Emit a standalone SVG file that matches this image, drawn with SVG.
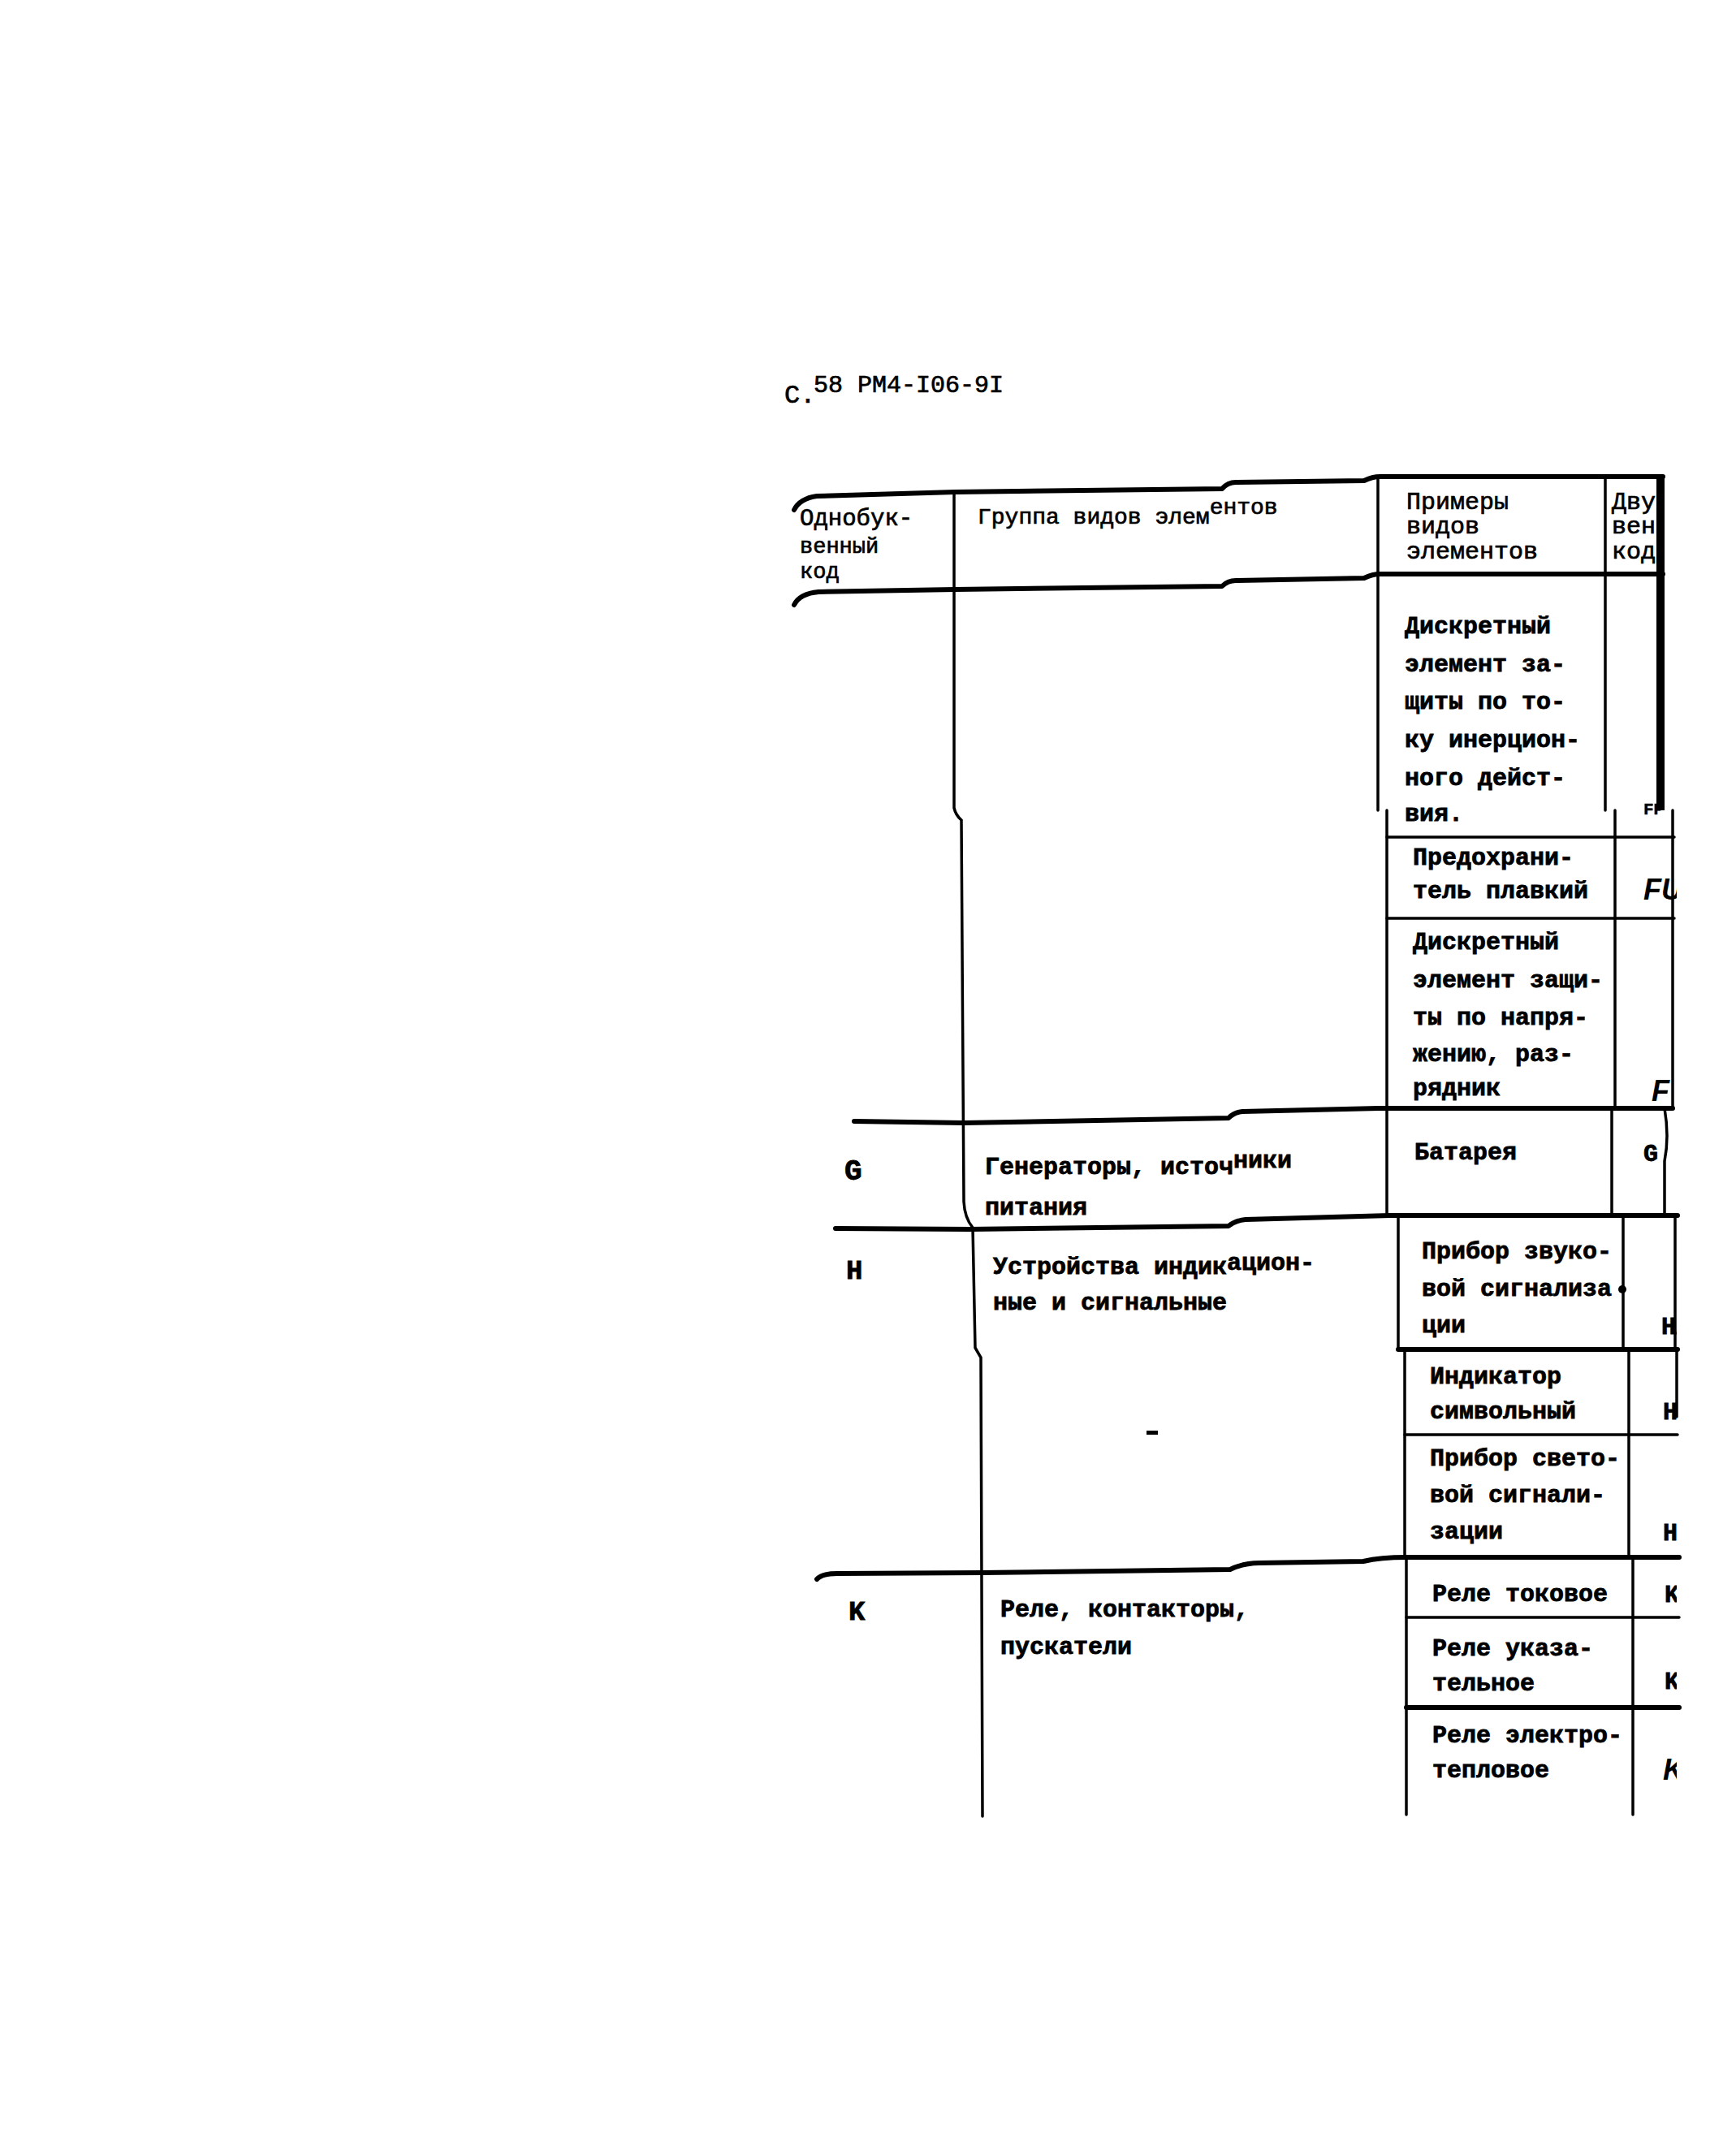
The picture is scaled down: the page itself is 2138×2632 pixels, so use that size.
<svg xmlns="http://www.w3.org/2000/svg" width="2138" height="2632" viewBox="0 0 2138 2632">
<style>
text{font-family:"Liberation Mono","DejaVu Sans Mono",monospace;font-size:30px;fill:#000}
.b{font-weight:bold;stroke:#000;stroke-width:0.8}
.h{font-weight:normal;stroke:#000;stroke-width:0.7}
.hw{font-family:"Liberation Sans",sans-serif;font-style:italic;font-weight:bold;font-size:36px}
.th{fill:none;stroke:#000;stroke-width:6;stroke-linecap:round;stroke-linejoin:round}
.tn{fill:none;stroke:#000;stroke-width:3.5;stroke-linecap:round}
.edge{fill:none;stroke:#000;stroke-width:10}
</style>
<defs>
<clipPath id="cut"><rect x="1900" y="560" width="165" height="1700"/></clipPath>
<clipPath id="cutTop"><rect x="1900" y="560" width="142" height="440"/></clipPath>
</defs>
<rect width="2138" height="2632" fill="#fff"/>

<g id="title">
<text x="966" y="496" class="h" style="font-size:32px">С.</text>
<text x="1002" y="483" class="h">58 РМ4-I06-9I</text>
</g>

<g id="grid">
<path class="th" d="M978,628 Q985,614 1006,611 L1176,606 L1505,602 Q1512,594 1522,594 L1680,592 Q1690,587 1700,587 L2048,587"/>
<path class="th" d="M978,745 Q985,731 1008,729 L1176,726 L1505,722 Q1512,715 1522,715 L1680,712 Q1690,707 1700,707 L2048,707"/>
<path class="tn" d="M1175,606 L1175,995 Q1177,1004 1184,1010 L1187,1480 Q1188,1500 1198,1512 L1201,1660 L1208,1672 L1210,2237"/>
<path class="tn" d="M1697,587 L1697,998"/>
<path class="tn" d="M1708,998 L1708,1497"/>
<path class="tn" d="M1722,1497 L1722,1662"/>
<path class="tn" d="M1730,1662 L1730,1918"/>
<path class="tn" d="M1732,1918 L1732,2235"/>
<path class="tn" d="M1977,587 L1977,998"/>
<path class="tn" d="M1989,998 L1989,1365"/>
<path class="tn" d="M1985,1365 L1985,1497"/>
<path class="tn" d="M1999,1497 L1999,1662"/>
<path class="tn" d="M2006,1662 L2006,1918"/>
<path class="tn" d="M2011,1918 L2011,2235"/>
<path class="edge" d="M2045,587 L2045,998"/>
<path class="tn" d="M2060,998 L2060,1365" stroke-width="6"/>
<path class="tn" d="M2050,1365 Q2056,1400 2050,1430 L2050,1497" stroke-width="7"/>
<path class="tn" d="M2063,1497 L2063,1662"/>
<path class="tn" d="M2065,1662 L2065,1745" stroke-width="2.5"/>
<path class="tn" d="M1708,1031 L2062,1031"/>
<path class="tn" d="M1708,1131 L2062,1131"/>
<path class="th" d="M1052,1381 L1187,1383 L1513,1377 Q1520,1370 1530,1369 L1698,1365 L2060,1365"/>
<path class="th" d="M1029,1513 L1194,1514 L1513,1510 Q1522,1503 1534,1502 L1712,1497 L2066,1497"/>
<path class="th" d="M1722,1662 L2066,1662"/>
<path class="tn" d="M1730,1767 L2066,1767" stroke-width="5"/>
<path class="th" d="M1006,1945 Q1012,1938 1031,1938 L1209,1937 L1515,1933 Q1532,1925 1551,1925 L1679,1923 Q1700,1918 1732,1918 L2068,1918"/>
<path class="tn" d="M1732,1992 L2068,1992" stroke-width="5"/>
<path class="th" d="M1732,2103 L2068,2103"/>
<circle cx="1998" cy="1588" r="5" fill="#000"/>
<rect x="1412" y="1762" width="14" height="5" fill="#000"/>
</g>

<g id="header">
<text x="985" y="647" class="h" style="font-size:29px">Однобук-</text>
<text x="985" y="681" class="h" style="font-size:27px">венный</text>
<text x="985" y="712" class="h" style="font-size:27px">код</text>
<text x="1204" y="645" class="h" style="font-size:28px">Группа видов элем<tspan dy="-12">ентов</tspan></text>
<text x="1732" y="627" class="h">Примеры</text>
<text x="1732" y="657" class="h">видов</text>
<text x="1732" y="688" class="h">элементов</text>
<g clip-path="url(#cutTop)">
<text x="1985" y="627" class="h">Двух</text>
<text x="1985" y="657" class="h">венн</text>
<text x="1985" y="688" class="h">код</text>
</g>
</g>

<g id="row-F">
<text x="1730" y="780" class="b">Дискретный</text>
<text x="1730" y="827" class="b">элемент за-</text>
<text x="1730" y="873" class="b">щиты по то-</text>
<text x="1730" y="920" class="b">ку инерцион-</text>
<text x="1730" y="967" class="b">ного дейст-</text>
<text x="1730" y="1011" class="b">вия.</text>
<text x="1740" y="1065" class="b">Предохрани-</text>
<text x="1740" y="1106" class="b">тель плавкий</text>
<text x="1740" y="1169" class="b">Дискретный</text>
<text x="1740" y="1216" class="b">элемент защи-</text>
<text x="1740" y="1262" class="b">ты по напря-</text>
<text x="1740" y="1307" class="b">жению, раз-</text>
<text x="1740" y="1349" class="b">рядник</text>
</g>

<g id="row-G">
<text x="1040" y="1453" class="b" style="font-size:36px">G</text>
<text x="1213" y="1446" class="b">Генераторы, источ<tspan dy="-8">ники</tspan></text>
<text x="1213" y="1496" class="b">питания</text>
<text x="1742" y="1428" class="b">Батарея</text>
</g>

<g id="row-H">
<text x="1042" y="1575" class="b" style="font-size:34px">H</text>
<text x="1223" y="1569" class="b">Устройства индик<tspan dy="-5">ацион-</tspan></text>
<text x="1223" y="1613" class="b">ные и сигнальные</text>
<text x="1751" y="1550" class="b">Прибор звуко-</text>
<text x="1751" y="1596" class="b">вой сигнализа</text>
<text x="1751" y="1641" class="b">ции</text>
<text x="1761" y="1704" class="b">Индикатор</text>
<text x="1761" y="1747" class="b">символьный</text>
<text x="1761" y="1805" class="b">Прибор свето-</text>
<text x="1761" y="1850" class="b">вой сигнали-</text>
<text x="1761" y="1895" class="b">зации</text>
</g>

<g id="row-K">
<text x="1045" y="1995" class="b" style="font-size:34px">K</text>
<text x="1232" y="1991" class="b">Реле, контакторы,</text>
<text x="1232" y="2037" class="b">пускатели</text>
<text x="1764" y="1972" class="b">Реле токовое</text>
<text x="1764" y="2039" class="b">Реле указа-</text>
<text x="1764" y="2082" class="b">тельное</text>
<text x="1764" y="2146" class="b">Реле электро-</text>
<text x="1764" y="2189" class="b">тепловое</text>
</g>

<g id="codes" clip-path="url(#cut)">
<text x="2024" y="1003" class="b" style="font-size:21px;stroke-width:0.5">FP</text>
<text x="2024" y="1108" class="hw">FU</text>
<text x="2034" y="1356" class="hw">F</text>
<text x="2024" y="1430" class="b">G</text>
<text x="2046" y="1643" class="b">HA</text>
<text x="2048" y="1748" class="b">HG</text>
<text x="2048" y="1897" class="b">HL</text>
<text x="2050" y="1973" class="b">KA</text>
<text x="2050" y="2080" class="b">KH</text>
<text x="2048" y="2192" class="hw">KK</text>
</g>
</svg>
